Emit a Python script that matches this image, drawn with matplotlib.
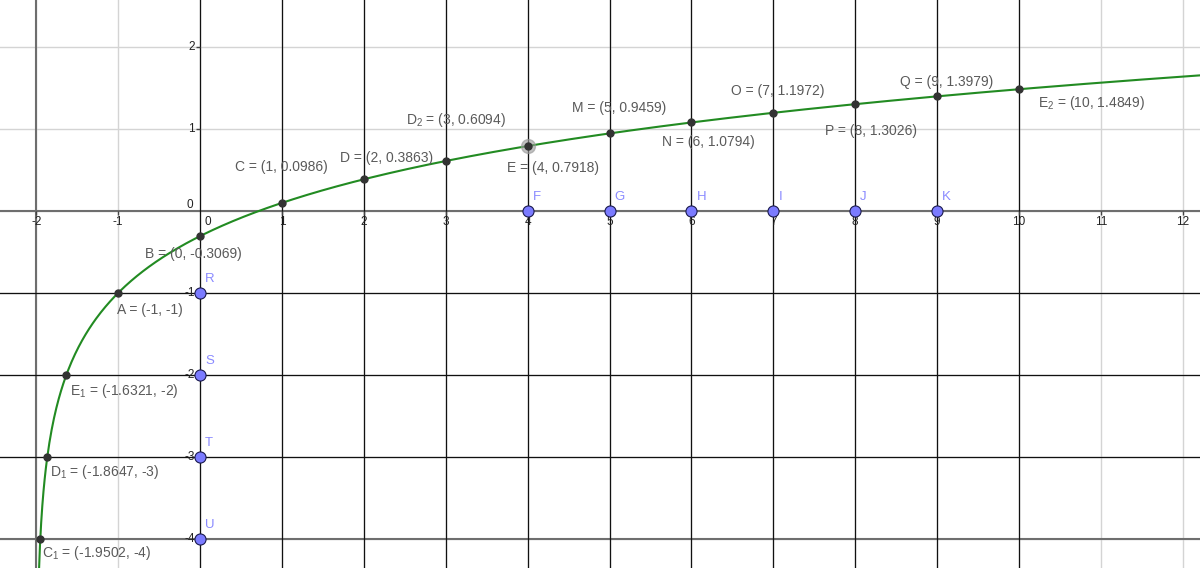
import matplotlib.pyplot as plt
import numpy as np

plt.rcParams['font.family'] = ['Liberation Sans', 'DejaVu Sans']
plt.rcParams['mathtext.fontset'] = 'custom'
plt.rcParams['mathtext.rm'] = 'Liberation Sans'
plt.rcParams['mathtext.it'] = 'Liberation Sans'

# points on the curve
pt_names = ['C', 'D', 'D$_2$', 'E', 'M', 'N', 'O', 'P', 'Q', 'E$_2$',
            'B', 'A', 'E$_1$', 'D$_1$', 'C$_1$']
pt_x = [1, 2, 3, 4, 5, 6, 7, 8, 9, 10, 0, -1, -1.6321, -1.8647, -1.9502]
pt_y = [0.0986, 0.3863, 0.6094, 0.7918, 0.9459, 1.0794, 1.1972, 1.3026,
        1.3979, 1.4849, -0.3069, -1, -2, -3, -4]
pt_xtxt = ['1', '2', '3', '4', '5', '6', '7', '8', '9', '10', '0', '-1',
           '-1.6321', '-1.8647', '-1.9502']
pt_ytxt = ['0.0986', '0.3863', '0.6094', '0.7918', '0.9459', '1.0794',
           '1.1972', '1.3026', '1.3979', '1.4849', '-0.3069', '-1', '-2',
           '-3', '-4']

# blue points on the axes
ax_names = ['F', 'G', 'H', 'I', 'J', 'K', 'R', 'S', 'T', 'U']
ax_x = [4, 5, 6, 7, 8, 9, 0, 0, 0, 0]
ax_y = [0, 0, 0, 0, 0, 0, -1, -2, -3, -4]

# dark lines x = k and y = k
vlines_x = [1, 2, 3, 4, 5, 6, 7, 8, 9, 10]
hlines_y = [-1, -2, -3]

xticks = [-2, -1, 1, 2, 3, 4, 5, 6, 7, 8, 9, 10, 11, 12]
yticks = [-4, -3, -2, -1, 1, 2]

# label offsets in pixels
lab_off = [(-47, 36), (-24, 21), (-40, 41), (-21, -22), (-38, 25), (-29, -20),
           (-42, 22), (-30, -27), (-37, 14), (19, -14), (-55, -18), (-1, -17),
           (4, -16), (3, -15), (2, -14)]

fig = plt.figure(figsize=(12, 5.68), dpi=100)
ax = fig.add_axes([0, 0, 1, 1])
ax.set_xlim(-2.442, 12.21)
ax.set_ylim(-4.354, 2.573)
ax.axis('off')

# light grid
for k in range(-2, 13):
    ax.axvline(k, color='#d4d4d4', lw=1, zorder=0)
for k in range(-4, 3):
    ax.axhline(k, color='#d4d4d4', lw=1, zorder=0)

# axes
ax.axhline(0, color='#6e6e6e', lw=1.5, zorder=1)
ax.axvline(-2, color='#6e6e6e', lw=1.5, zorder=1)
ax.axhline(-4, color='#6e6e6e', lw=1.5, zorder=1)
ax.axvline(0, color='#111111', lw=0.9, zorder=2)
for v in vlines_x:
    ax.axvline(v, color='#111111', lw=0.9, zorder=2)
for h in hlines_y:
    ax.axhline(h, color='#111111', lw=0.9, zorder=2)

# ticks and tick labels
ax.plot(xticks, [0] * len(xticks), ls='none', marker=3, ms=3, mew=1, color='#444444', zorder=2)
ax.plot([0] * len(yticks), yticks, ls='none', marker=0, ms=3, mew=1, color='#444444', zorder=2)
for t in xticks:
    ax.annotate(str(t), (t, 0), xytext=(0, -11), textcoords='offset pixels',
                ha='center', va='center', fontsize=8.5, color='#222222')
for t in yticks:
    ax.annotate(str(t), (0, t), xytext=(-5, 0), textcoords='offset pixels',
                ha='right', va='center', fontsize=8.5, color='#222222')
ax.annotate('0', (0, 0), xytext=(-10, 6), textcoords='offset pixels',
            ha='center', va='center', fontsize=8.5, color='#222222')
ax.annotate('0', (0, 0), xytext=(8, -11), textcoords='offset pixels',
            ha='center', va='center', fontsize=8.5, color='#222222')

# curve f(x) = ln(x + 2) - 1
cx = np.linspace(-1.968, 12.3, 1000)
ax.plot(cx, np.log(cx + 2) - 1, color='#228b22', lw=1.5, zorder=3)

# points
ax.plot(4, 0.7918, 'o', ms=10, color='#999999', alpha=0.6, zorder=4)
ax.plot(pt_x, pt_y, 'o', ls='none', ms=5, color='#333333', zorder=5)
for n, x, y, xt, yt, off in zip(pt_names, pt_x, pt_y, pt_xtxt, pt_ytxt, lab_off):
    ax.annotate(n + ' = (' + xt + ', ' + yt + ')', (x, y), xytext=off,
                textcoords='offset pixels', ha='left', va='center',
                fontsize=10, color='#5a5a5a', zorder=6)

ax.plot(ax_x, ax_y, 'o', ls='none', ms=8, mfc='#7b7bff', mec='#1a1a4d', mew=0.8, zorder=5)
for n, x, y in zip(ax_names, ax_x, ax_y):
    ax.annotate(n, (x, y), xytext=(5, 14), textcoords='offset pixels',
                ha='left', va='center', fontsize=9.5, color='#8a8aff', zorder=6)

fig.savefig('out.png', dpi=100)
